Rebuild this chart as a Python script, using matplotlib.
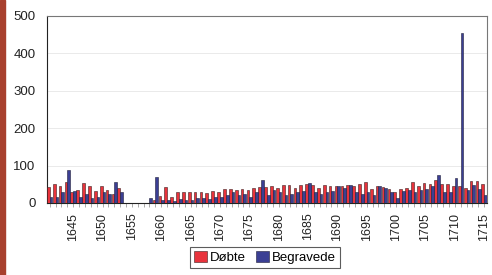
import numpy as np
import matplotlib.pyplot as plt
from matplotlib.patches import Rectangle

plt.rcParams['font.family'] = ['Liberation Sans', 'DejaVu Sans']

years = list(range(1641, 1716))

# None = no data for that year
dobte = [42, 50, 45, 55, 28, 35, 53, 46, 32, 44, 35, 24, 39,
         None, None, None, None,
         0, 8, 19, 42, 15, 29, 29, 29, 29, 29, 27, 32, 28, 37,
         37, 35, 38, 35, 40, 42, 43, 44, 40, 48, 48, 40, 48, 50,
         48, 40, 48, 44, 44, 44, 48, 45, 50, 57, 38, 46, 42, 36,
         30, 38, 39, 57, 46, 54, 52, 61, 52, 52, 46, 45, 39, 59,
         59, 52]
begravede = [17, 16, 28, 88, 32, 17, 24, 13, 17, 30, 24, 55, 30,
             None, None, None, None,
             12, 69, 8, 8, 6, 11, 8, 8, 12, 12, 10, 16, 16, 22,
             28, 20, 24, 16, 30, 62, 20, 35, 30, 22, 25, 28, 32, 53,
             30, 25, 30, 32, 44, 40, 48, 30, 24, 28, 20, 44, 40, 30,
             14, 32, 35, 30, 34, 38, 46, 75, 29, 29, 66, 455, 35, 48,
             37, 22]

tick_years = list(range(1645, 1716, 5))

red = '#e8333c'
blue = '#3b3f94'

d = np.array([np.nan if v is None else v for v in dobte], dtype=float)
b = np.array([np.nan if v is None else v for v in begravede], dtype=float)
x = np.arange(len(years))

fig = plt.figure(figsize=(4.92, 2.75), dpi=100)
ax = fig.add_axes([0.095, 0.262, 0.895, 0.68])

w = 0.46
ax.bar(x - w / 2, d, width=w, color=red, edgecolor='#3a2020', linewidth=0.4, label='Døbte', zorder=3)
ax.bar(x + w / 2, b, width=w, color=blue, edgecolor='#20203a', linewidth=0.4, label='Begravede', zorder=3)

ax.set_xlim(-0.5, len(years) - 0.5)
ax.set_ylim(0, 500)
ax.set_yticks([0, 100, 200, 300, 400, 500])
ax.yaxis.grid(True, color='#e6e6e6', linewidth=0.6)
ax.set_axisbelow(True)

ax.set_xticks([years.index(t) for t in tick_years])
ax.set_xticklabels([str(t) for t in tick_years], rotation=90)
ax.set_xticks(x, minor=True)
ax.tick_params(axis='x', which='both', length=3, width=0.5, color='#888888', labelsize=9, pad=4)
ax.tick_params(axis='y', length=0, labelsize=9.5, pad=8)
for lab in ax.get_xticklabels() + ax.get_yticklabels():
    lab.set_color('#222222')

for s in ['top', 'right']:
    ax.spines[s].set_color('#777777')
    ax.spines[s].set_linewidth(0.8)
ax.spines['left'].set_color('#222222')
ax.spines['bottom'].set_color('#222222')

leg = fig.legend(loc='center', bbox_to_anchor=(0.538, 0.065), ncol=2, fontsize=9.5,
                 frameon=True, fancybox=False, edgecolor='#333333',
                 handlelength=1.0, handleheight=0.9, handletextpad=0.2,
                 columnspacing=0.8, borderpad=0.3)
leg.get_frame().set_linewidth(0.8)

# red stripe on left edge of the scanned page
fig.patches.append(Rectangle((0, 0), 0.011, 1, transform=fig.transFigure,
                             color='#a8402e', zorder=0))

fig.savefig('out.png', dpi=100)
